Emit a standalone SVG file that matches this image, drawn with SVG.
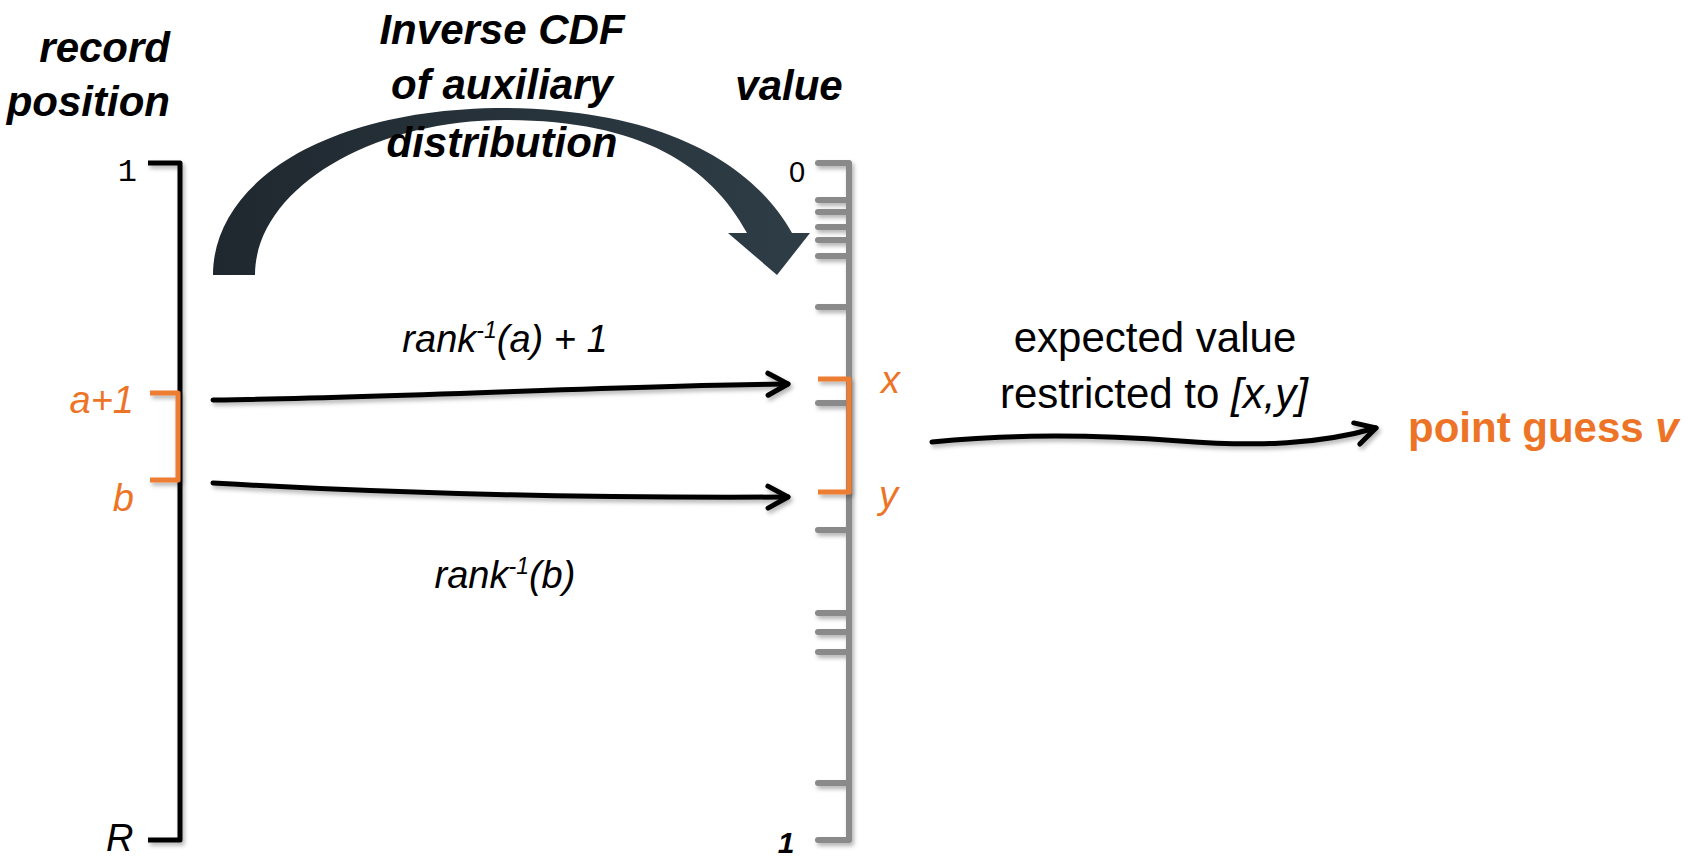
<svg xmlns="http://www.w3.org/2000/svg" width="1698" height="860" viewBox="0 0 1698 860">
  <defs>
    <linearGradient id="arcGrad" x1="0" y1="0" x2="1" y2="0">
      <stop offset="0" stop-color="#20282f"/>
      <stop offset="1" stop-color="#2e3d46"/>
    </linearGradient>
    <filter id="shadow" filterUnits="userSpaceOnUse" x="0" y="0" width="1698" height="860">
      <feDropShadow dx="2" dy="3" stdDeviation="2" flood-color="#000" flood-opacity="0.3"/>
    </filter>
    <marker id="chev" markerUnits="userSpaceOnUse" markerWidth="30" markerHeight="30" refX="0" refY="0" orient="auto" overflow="visible">
      <path d="M-20,-11 L0,0 L-20,11" fill="none" stroke="#000" stroke-width="5" stroke-linecap="round" stroke-linejoin="round"/>
    </marker>
    <style>
      .head { font-family: "Liberation Sans", Arial, sans-serif; font-weight: bold; font-style: italic; font-size: 42px; fill: #000; }
      .mono { font-family: "Liberation Mono", "Courier New", monospace; font-size: 32px; fill: #000; }
      .ital { font-family: "Liberation Sans", Arial, sans-serif; font-style: italic; font-size: 38px; fill: #000; }
      .orng { fill: #ED7426; }
      .reg { font-family: "Liberation Sans", Arial, sans-serif; font-size: 42px; fill: #000; }
      .bold { font-family: "Liberation Sans", Arial, sans-serif; font-weight: bold; font-size: 42px; fill: #ED7426; }
      .blk { fill: none; stroke: #000; stroke-width: 5; stroke-linejoin: round; }
      .gry { fill: none; stroke: #8a8a8a; stroke-width: 6; stroke-linejoin: round; stroke-linecap: round; }
      .obr { fill: none; stroke: #ED7D31; stroke-width: 5; stroke-linejoin: round; }
      .conn { fill: none; stroke: #000; stroke-width: 5; stroke-linecap: round; }
    </style>
  </defs>
  <rect width="1698" height="860" fill="#fff"/>

  <g id="inverse-cdf-arrow">
    <path d="M213,275 C213,180 330,108 505,108 C680,110 760,175 792,233 L810,233 L777,275 L728,233 L747,233 C710,165 640,120 505,120 C370,120 255,190 255,275 Z" fill="url(#arcGrad)"/>
    <text class="head" x="502" y="44" text-anchor="middle">Inverse CDF</text>
    <text class="head" x="502" y="99" text-anchor="middle">of auxiliary</text>
    <text class="head" x="502" y="157" text-anchor="middle">distribution</text>
  </g>

  <g id="record-position-axis">
    <text class="head" x="170" y="62" text-anchor="end">record</text>
    <text class="head" x="170" y="116" text-anchor="end">position</text>
    <path class="blk" d="M148,163 L180,163 L180,840 L148,840" filter="url(#shadow)"/>
    <text class="mono" x="137" y="181" text-anchor="end">1</text>
    <text class="ital" x="106" y="851" style="font-size:38px">R</text>
  </g>

  <g id="record-range">
    <path class="obr" d="M150,393 L178,393 L178,480 L150,480" filter="url(#shadow)"/>
    <text class="ital orng" x="134" y="413" text-anchor="end">a+1</text>
    <text class="ital orng" x="134" y="511" text-anchor="end">b</text>
  </g>

  <g id="value-axis">
    <text class="head" x="789" y="100" text-anchor="middle">value</text>
    <g filter="url(#shadow)">
      <path class="gry" d="M818,163 L849,163 L849,840 L818,840"/>
      <path class="gry" d="M818,200 H849 M818,212 H849 M818,227 H849 M818,240 H849 M818,256 H849 M818,307 H849 M818,403 H849 M818,530 H849 M818,613 H849 M818,632 H849 M818,652 H849 M818,783 H849"/>
    </g>
    <text x="797" y="182" text-anchor="middle" style="font-family:'Liberation Sans', Arial, sans-serif; font-size:29px; fill:#000">0</text>
    <text class="ital" x="786" y="853" text-anchor="middle" style="font-weight:bold; font-size:30px">1</text>
  </g>

  <g id="value-range">
    <path class="obr" d="M818,379 L849,379 L849,492 L818,492" filter="url(#shadow)"/>
    <text class="ital orng" x="881" y="393">x</text>
    <text class="ital orng" x="879" y="508">y</text>
  </g>

  <g id="point-guess">
    <text class="reg" x="1155" y="352" text-anchor="middle">expected value</text>
    <text class="reg" x="1154" y="408" text-anchor="middle">restricted to <tspan font-style="italic">[x,y]</tspan></text>
    <text class="bold" x="1408" y="442">point guess <tspan font-style="italic">v</tspan></text>
  </g>

  <g id="connectors">
    <path class="conn" d="M213,400 C400,398 600,386 788,384" marker-end="url(#chev)" filter="url(#shadow)"/>
    <path class="conn" d="M213,483 C400,494 600,498 788,497" marker-end="url(#chev)" filter="url(#shadow)"/>
    <path class="conn" d="M932,442 C1010,434 1100,435 1180,441 C1260,447 1320,444 1376,428" marker-end="url(#chev)" filter="url(#shadow)"/>
    <text class="ital" x="505" y="352" text-anchor="middle">rank<tspan dy="-14" style="font-size:23px">-1</tspan><tspan dy="14">(a) + 1</tspan></text>
    <text class="ital" x="505" y="588" text-anchor="middle">rank<tspan dy="-14" style="font-size:23px">-1</tspan><tspan dy="14">(b)</tspan></text>
  </g>
</svg>
